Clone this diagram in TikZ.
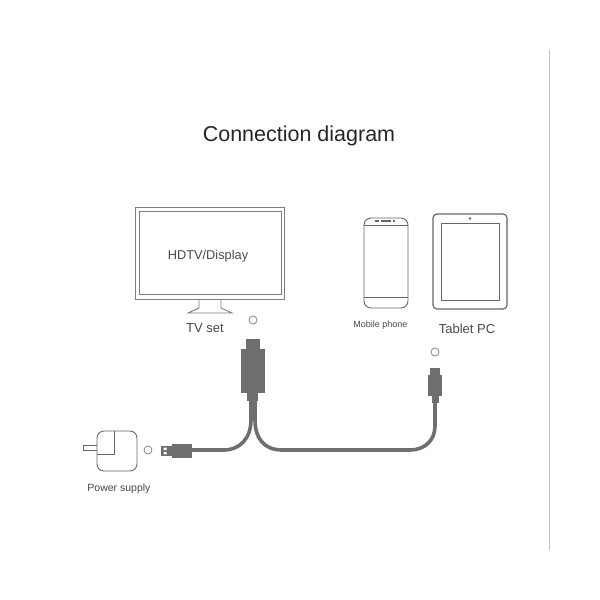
\documentclass[tikz,border=0pt]{standalone}
\usepackage{fontspec}
\setmainfont{Liberation Sans}
\newcommand{\fs}[1]{\fontsize{#1}{#1}\selectfont}
\definecolor{ink}{HTML}{6E6E6E}
\definecolor{linegray}{HTML}{666666}
\definecolor{txtgray}{HTML}{4A4A4A}
\tikzset{
  outline/.style={draw=linegray,line width=1.2pt,fill=white},
  tv outline/.style={draw=linegray!85,line width=0.9pt,fill=white},
  thin outline/.style={draw=linegray,line width=0.9pt},
  plug/.style={fill=ink,draw=none},
  wire/.style={draw=ink,line width=3.6pt},
  port/.style={circle,draw=linegray,line width=0.6pt,minimum size=8pt,inner sep=0pt},
  lbl/.style={text=txtgray,inner sep=0pt,anchor=center}
}
\begin{document}
\begin{tikzpicture}[x=1pt,y=-1pt]
\useasboundingbox (0,0) rectangle (600,600);
\fill[white] (0,0) rectangle (600,600);
% page rule
\coordinate (ruleA) at (549,50); \coordinate (ruleB) at (549,550);
\draw[draw=black!25,line width=0.8pt] (ruleA) -- (ruleB);
% title
\node[lbl,text=black!85] (title) at (299,135.5) {\fs{21.5}Connection diagram};
% TV
\draw[tv outline] (135,207) rectangle (284,299);
\draw[tv outline] (139,211) rectangle (281,294);
\draw[tv outline,fill=none] (199,299) -- (199,308) -- (188,313) -- (232,313) -- (221,308) -- (221,299);
\node[lbl] (hdtv) at (208,256) {\fs{12.8}HDTV/Display};
\node[lbl] (tvset) at (205,328) {\fs{13}TV set};
% phone
\draw[thin outline] (371,218) -- (401,218) arc[start angle=-90,end angle=0,radius=7] -- (408,301) arc[start angle=0,end angle=90,radius=7] -- (371,308) arc[start angle=90,end angle=180,radius=7] -- (364,225) arc[start angle=180,end angle=270,radius=7] -- cycle;
\draw[draw=linegray,line width=0.5pt] (364,225) -- (408,225) (364,297) -- (408,297);
\draw[draw=linegray,line width=1.3pt] (375,221) -- (379,221) (381,221) -- (391,221) (393,221) -- (395,221);
\node[lbl] (mobile) at (380.5,325) {\fs{9}Mobile phone};
% tablet
\draw[outline,rounded corners=4pt] (433,214) rectangle (507,309);
\draw[thin outline] (441,223) rectangle (499,300);
\fill[linegray] (470,218.5) circle (1.3pt);
\node[lbl] (tablet) at (467,328.5) {\fs{13}Tablet PC};
% port marks
\node[port] (portTV) at (253,320) {};
\node[port] (portTablet) at (435,352) {};
\node[port] (portPower) at (148,450) {};
% power adapter
\draw[thin outline,fill=white] (83,445) rectangle (97,450);
\draw[thin outline,fill=white,rounded corners=7pt] (97,431) rectangle (137,471);
\draw[thin outline] (114,431) -- (114,454) -- (97,454);
\node[lbl] (power) at (119,489) {\fs{10.5}Power supply};
% cable
\node[plug,minimum width=24pt,minimum height=44pt,inner sep=0pt] (hdmi) at (253,371) {};
\node[plug,minimum width=14pt,minimum height=11pt,inner sep=0pt] (hdmiTip) at (253,344) {};
\node[plug,minimum width=11pt,minimum height=8pt,inner sep=0pt] (hdmiNeck) at (252.5,396.5) {};
\node[plug,minimum width=20pt,minimum height=14pt,inner sep=0pt] (usb) at (182,451) {};
\node[plug,minimum width=11pt,minimum height=10pt,inner sep=0pt] (usbTip) at (166.5,451) {};
\fill[white] (163.5,447.6) rectangle (166.5,450) (163.5,452) rectangle (166.5,454.4);
\node[plug,minimum width=14pt,minimum height=21pt,inner sep=0pt] (micro) at (435,385.5) {};
\node[plug,minimum width=10pt,minimum height=8pt,inner sep=0pt] (microTip) at (435,372) {};
\node[plug,minimum width=7pt,minimum height=7pt,inner sep=0pt] (microNeck) at (435,399) {};
\coordinate (splitL) at (251,400);
\coordinate (splitR) at (255,400);
\draw[wire] (splitL) -- (251,420) .. controls (251,438) and (240,450) .. (224,450) -- (usb.east |- 0,450);
\draw[wire] (splitR) -- (255,420) .. controls (255,438) and (264,450) .. (282,450) -- (410,450) .. controls (425,450) and (435,440) .. (435,426) -- (microNeck.south);
\end{tikzpicture}
\end{document}
